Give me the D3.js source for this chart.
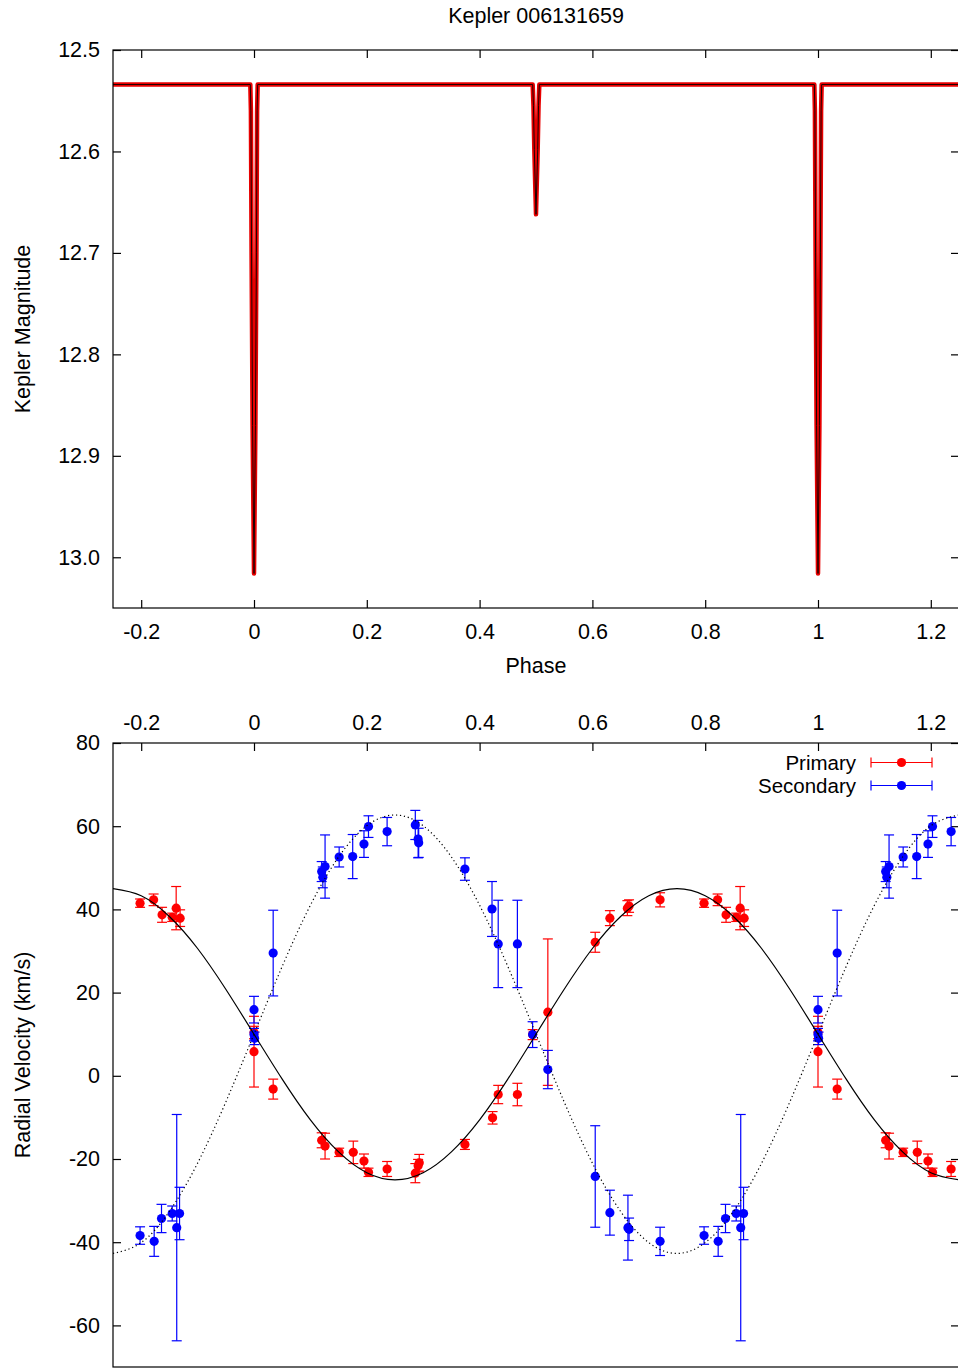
<!DOCTYPE html>
<html>
<head>
<meta charset="utf-8">
<title>Kepler 006131659</title>
<script src="https://cdn.jsdelivr.net/npm/d3@7"></script>
<style>
body { margin:0; background:#fff; }
text { font-family: "Liberation Sans", Arial, sans-serif; }
</style>
</head>
<body>
<script>
// phase ticks shared by both panels
var phaseTicks = [-0.2, 0, 0.2, 0.4, 0.6, 0.8, 1, 1.2];
var magTicks = [12.5, 12.6, 12.7, 12.8, 12.9, 13.0];
var rvTicks = [80, 60, 40, 20, 0, -20, -40, -60];

// light curve (model + data band)
var lcPhase = [-0.25, -0.0065, -0.0055, -0.0043, -0.0025, 0, 0.0025, 0.0043, 0.0055, 0.0065,
               0.4941, 0.4955, 0.4970, 0.5, 0.5030, 0.5045, 0.5059,
               0.9935, 0.9945, 0.9957, 0.9975, 1, 1.0025, 1.0043, 1.0055, 1.0065, 1.25];
var lcMag = [12.534, 12.534, 12.56, 12.70, 12.87, 13.016, 12.87, 12.70, 12.56, 12.534,
             12.534, 12.555, 12.598, 12.662, 12.598, 12.555, 12.534,
             12.534, 12.56, 12.70, 12.87, 13.016, 12.87, 12.70, 12.56, 12.534, 12.534];

// radial velocities, primary
var priPhase = [0.000, 0.000, 0.034, 0.120, 0.126, 0.151, 0.176, 0.195, 0.203, 0.236, 0.286, 0.291, 0.293,
                0.374, 0.423, 0.433, 0.467, 0.494, 0.521, 0.605, 0.631, 0.662, 0.665, 0.720, 0.798,
                0.822, 0.837, 0.855, 0.862, 0.869];
var priVel = [10.4, 5.8, -3.2, -15.5, -16.9, -18.4, -18.4, -20.5, -23.2, -22.4, -23.4, -21.6, -20.9,
              -16.5, -10.1, -4.5, -4.5, 9.9, 15.3, 32.1, 37.9, 40.3, 40.8, 42.3, 41.5,
              42.3, 38.7, 38.1, 40.3, 37.9];
var priErr = [1.5, 8.5, 2.4, 1.8, 3.1, 1.0, 2.7, 1.7, 1.0, 1.8, 2.3, 1.5, 2.0,
              1.2, 1.5, 2.2, 2.7, 1.2, 17.6, 2.4, 1.8, 1.8, 1.5, 1.7, 1.0,
              1.4, 1.8, 1.0, 5.2, 2.0];

// radial velocities, secondary
var secPhase = [0.000, 0.000, 0.001, 0.034, 0.120, 0.122, 0.126, 0.151, 0.175, 0.195, 0.203, 0.236, 0.286,
                0.291, 0.292, 0.374, 0.422, 0.433, 0.467, 0.494, 0.521, 0.605, 0.631, 0.663, 0.665,
                0.720, 0.798, 0.823, 0.836, 0.855, 0.863, 0.868];
var secVel = [15.9, 9.9, 9.0, 29.5, 49.1, 47.7, 50.3, 52.6, 52.7, 55.7, 59.9, 58.7, 60.3,
              56.9, 56.0, 49.7, 40.1, 31.7, 31.7, 9.9, 1.5, -24.2, -32.9, -36.5, -36.9,
              -39.8, -38.4, -39.8, -34.3, -33.1, -36.5, -33.1];
var secErr = [3.2, 1.5, 1.5, 10.3, 2.4, 2.5, 7.6, 2.4, 5.3, 3.2, 2.6, 3.4, 3.5,
              4.5, 3.5, 2.7, 6.6, 10.5, 10.5, 3.1, 4.6, 12.2, 5.4, 7.8, 2.7,
              3.4, 2.1, 3.6, 3.4, 1.8, 27.2, 6.3];

// orbit curves read at every 0.05 in phase
var curvePhase = d3.range(31).map(function(i){ return -0.25 + i*0.05; });
var priCurve = [45, 43.3, 38.3, 30.6, 20.8, 10, -0.8, -10.6, -18.3, -23.3, -25, -23.3, -18.3, -10.6, -0.8,
                10, 20.8, 30.6, 38.3, 43.3, 45, 43.3, 38.3, 30.6, 20.8, 10, -0.8, -10.6, -18.3, -23.3, -25];
var secCurve = [-42.7, -40.1, -32.6, -21.0, -6.3, 10, 26.3, 41.0, 52.6, 60.1, 62.7, 60.1, 52.6, 41.0, 26.3,
                10, -6.3, -21.0, -32.6, -40.1, -42.7, -40.1, -32.6, -21.0, -6.3, 10, 26.3, 41.0, 52.6, 60.1, 62.7];

var width = 958, height = 1368;
var left = 113, right = 959;
var fs = "21.5px";

var svg = d3.select("body").append("svg")
    .attr("width", width)
    .attr("height", height);

var x = d3.scaleLinear().domain([-0.25, 1.25]).range([left, right]);
var yMag = d3.scaleLinear().domain([12.5, 13.05]).range([50, 608]);
var yRv = d3.scaleLinear().domain([-70, 80]).range([1367, 743]);

function phaseFmt(d){ var s = String(+d.toFixed(1)); return s == "-0" ? "0" : s; }

function styleAxis(g){
    g.select(".domain").remove();
    g.selectAll("line").attr("stroke", "#000").attr("stroke-width", 1.2);
    g.selectAll("text").attr("font-size", fs).attr("fill", "#000")
        .attr("font-family", "'Liberation Sans', Arial, sans-serif");
}

svg.append("defs").append("clipPath").attr("id", "clipTop")
    .append("rect").attr("x", left).attr("y", 50).attr("width", right-left).attr("height", 558);
svg.select("defs").append("clipPath").attr("id", "clipBot")
    .append("rect").attr("x", left).attr("y", 743).attr("width", right-left).attr("height", 624);

// ---------- top panel ----------
svg.append("text").attr("x", 536).attr("y", 23).attr("text-anchor", "middle")
    .attr("font-size", fs).text("Kepler 006131659");

var topG = svg.append("g");
topG.append("g").attr("transform", "translate(0,608)")
    .call(d3.axisBottom(x).tickValues(phaseTicks).tickSize(-8).tickPadding(16).tickFormat(phaseFmt))
    .call(styleAxis);
topG.append("g").attr("transform", "translate(0,50)")
    .call(d3.axisTop(x).tickValues(phaseTicks).tickSize(-8).tickFormat(""))
    .call(styleAxis);
topG.append("g").attr("transform", "translate(" + left + ",0)")
    .call(d3.axisLeft(yMag).tickValues(magTicks).tickSize(-8).tickPadding(13)
        .tickFormat(function(d){ return d.toFixed(1); }))
    .call(styleAxis);
topG.append("g").attr("transform", "translate(" + right + ",0)")
    .call(d3.axisRight(yMag).tickValues(magTicks).tickSize(-8).tickFormat(""))
    .call(styleAxis);

var lcLine = d3.line()
    .x(function(d, i){ return x(lcPhase[i]); })
    .y(function(d, i){ return yMag(lcMag[i]); });

var lcG = topG.append("g").attr("clip-path", "url(#clipTop)");
lcG.append("path").datum(lcMag).attr("d", lcLine)
    .attr("fill", "none").attr("stroke", "#e80000").attr("stroke-width", 4.5).attr("stroke-linejoin", "round");
lcG.append("path").datum(lcMag).attr("d", lcLine)
    .attr("fill", "none").attr("stroke", "#200000").attr("stroke-width", 1);

topG.append("rect").attr("x", left).attr("y", 50).attr("width", right-left).attr("height", 558)
    .attr("fill", "none").attr("stroke", "#000").attr("stroke-width", 1.2);

topG.append("text").attr("x", 536).attr("y", 673).attr("text-anchor", "middle")
    .attr("font-size", fs).text("Phase");
topG.append("text").attr("transform", "translate(30,329) rotate(-90)").attr("text-anchor", "middle")
    .attr("font-size", fs).text("Kepler Magnitude");

// ---------- bottom panel ----------
var botG = svg.append("g");
botG.append("g").attr("transform", "translate(0,743)")
    .call(d3.axisTop(x).tickValues(phaseTicks).tickSize(-8).tickPadding(13).tickFormat(phaseFmt))
    .call(styleAxis);
botG.append("g").attr("transform", "translate(" + left + ",0)")
    .call(d3.axisLeft(yRv).tickValues(rvTicks).tickSize(-8).tickPadding(13).tickFormat(function(d){ return String(d); }))
    .call(styleAxis);
botG.append("g").attr("transform", "translate(" + right + ",0)")
    .call(d3.axisRight(yRv).tickValues(rvTicks).tickSize(-8).tickFormat(""))
    .call(styleAxis);

botG.append("text").attr("transform", "translate(30,1055) rotate(-90)").attr("text-anchor", "middle")
    .attr("font-size", fs).text("Radial Velocity (km/s)");

// data repeated one cycle either side, like the phase-folded plot
function folded(ph, v, e){
    var out = [];
    [-1, 0, 1].forEach(function(s){
        ph.forEach(function(p, i){
            var q = p + s;
            if (q >= -0.25 && q <= 1.25) out.push({p: q, v: v[i], e: e[i]});
        });
    });
    return out;
}

var plotG = botG.append("g").attr("clip-path", "url(#clipBot)");

function drawSet(data, col){
    var g = plotG.append("g");
    var eb = g.selectAll(".eb").data(data).enter().append("g");
    eb.append("line").attr("x1", function(d){ return x(d.p); }).attr("x2", function(d){ return x(d.p); })
        .attr("y1", function(d){ return yRv(d.v + d.e); }).attr("y2", function(d){ return yRv(d.v - d.e); })
        .attr("stroke", col).attr("stroke-width", 1.2);
    eb.append("line").attr("x1", function(d){ return x(d.p) - 5; }).attr("x2", function(d){ return x(d.p) + 5; })
        .attr("y1", function(d){ return yRv(d.v + d.e); }).attr("y2", function(d){ return yRv(d.v + d.e); })
        .attr("stroke", col).attr("stroke-width", 1.2);
    eb.append("line").attr("x1", function(d){ return x(d.p) - 5; }).attr("x2", function(d){ return x(d.p) + 5; })
        .attr("y1", function(d){ return yRv(d.v - d.e); }).attr("y2", function(d){ return yRv(d.v - d.e); })
        .attr("stroke", col).attr("stroke-width", 1.2);
    g.selectAll("circle").data(data).enter().append("circle")
        .attr("cx", function(d){ return x(d.p); })
        .attr("cy", function(d){ return yRv(d.v); })
        .attr("r", 4.6).attr("fill", col);
}

drawSet(folded(priPhase, priVel, priErr), "#ff0000");
drawSet(folded(secPhase, secVel, secErr), "#0000ff");

var curve = function(vals){
    return d3.line().curve(d3.curveNatural)
        .x(function(d, i){ return x(curvePhase[i]); })
        .y(function(d){ return yRv(d); })(vals);
};
plotG.append("path").attr("d", curve(priCurve))
    .attr("fill", "none").attr("stroke", "#000").attr("stroke-width", 1.2);
plotG.append("path").attr("d", curve(secCurve))
    .attr("fill", "none").attr("stroke", "#000").attr("stroke-width", 1.2)
    .attr("stroke-dasharray", "1.2,2.8");

botG.append("rect").attr("x", left).attr("y", 743).attr("width", right-left).attr("height", 624)
    .attr("fill", "none").attr("stroke", "#000").attr("stroke-width", 1.2);

// legend
var legend = [{name: "Primary", col: "#ff0000", y: 762.5}, {name: "Secondary", col: "#0000ff", y: 785.5}];
var lg = botG.selectAll(".lg").data(legend).enter().append("g");
lg.append("text").attr("x", 856).attr("y", function(d){ return d.y + 7.3; })
    .attr("text-anchor", "end").attr("font-size", "20.5px").text(function(d){ return d.name; });
lg.append("line").attr("x1", 871).attr("x2", 932).attr("y1", function(d){ return d.y; }).attr("y2", function(d){ return d.y; })
    .attr("stroke", function(d){ return d.col; }).attr("stroke-width", 1.2);
lg.append("line").attr("x1", 871).attr("x2", 871).attr("y1", function(d){ return d.y - 5; }).attr("y2", function(d){ return d.y + 5; })
    .attr("stroke", function(d){ return d.col; }).attr("stroke-width", 1.2);
lg.append("line").attr("x1", 932).attr("x2", 932).attr("y1", function(d){ return d.y - 5; }).attr("y2", function(d){ return d.y + 5; })
    .attr("stroke", function(d){ return d.col; }).attr("stroke-width", 1.2);
lg.append("circle").attr("cx", 901.5).attr("cy", function(d){ return d.y; }).attr("r", 4.6)
    .attr("fill", function(d){ return d.col; });
</script>
</body>
</html>
